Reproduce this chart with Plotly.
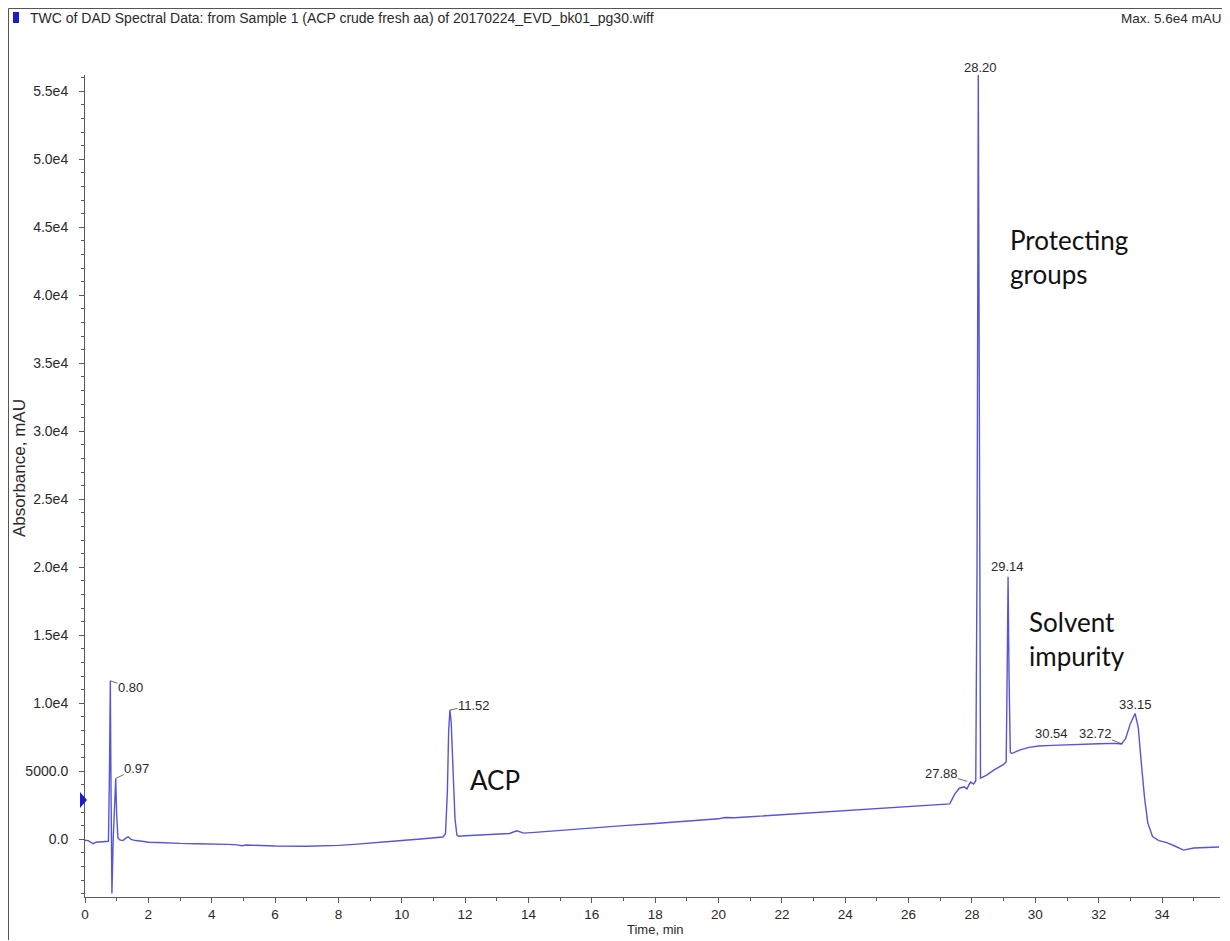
import plotly.graph_objects as go

# ---- data ----
time_min = [0.00, 0.10, 0.20, 0.26, 0.35, 0.50, 0.65, 0.74, 0.77, 0.80, 0.82, 0.85, 0.89, 0.93, 0.97,
            1.00, 1.04, 1.10, 1.20, 1.30, 1.37, 1.45, 1.60, 1.80, 2.00, 2.30, 2.70, 3.00, 3.50, 4.00,
            4.50, 4.80, 4.95, 5.10, 5.50, 6.00, 7.00, 7.50, 8.00, 8.50, 9.00, 9.50, 10.00, 10.50, 11.00,
            11.30, 11.38, 11.44, 11.48, 11.52, 11.56, 11.62, 11.68, 11.74, 11.80, 12.00, 12.50, 13.00,
            13.40, 13.63, 13.85, 14.20, 15.00, 16.00, 17.00, 18.00, 19.00, 20.00, 20.20, 20.50, 21.00,
            22.00, 23.00, 24.00, 25.00, 26.00, 26.50, 27.00, 27.30, 27.45, 27.60, 27.75, 27.84, 27.95,
            28.05, 28.12, 28.16, 28.20, 28.23, 28.27, 28.45, 28.70, 29.00, 29.08, 29.11, 29.14, 29.17,
            29.21, 29.26, 29.50, 29.80, 30.10, 30.54, 31.00, 31.50, 32.00, 32.50, 32.72, 32.85, 33.00,
            33.15, 33.25, 33.35, 33.45, 33.55, 33.70, 33.90, 34.15, 34.40, 34.68, 35.00, 35.30, 35.60,
            35.80]
absorbance = [-80, -100, -250, -330, -220, -200, -200, -150, 4500, 11650, 4000, -4000, 0, 2500, 4470,
              1800, 100, -50, -100, 100, 180, -20, -100, -150, -220, -240, -300, -310, -330, -340,
              -380, -420, -480, -430, -470, -500, -520, -500, -450, -380, -300, -200, -100, 0, 100,
              160, 400, 3500, 8000, 9500, 8600, 5000, 1500, 300, 220, 250, 320, 380,
              420, 620, 450, 500, 650, 850, 1000, 1150, 1300, 1500, 1600, 1580, 1650,
              1800, 1950, 2100, 2250, 2380, 2450, 2500, 2600, 3300, 3750, 3850, 3700, 4200,
              4050, 4300, 20000, 56200, 30000, 4500, 4700, 5100, 5500, 5700, 12000, 19300, 12000,
              6400, 6300, 6550, 6750, 6850, 6900, 6950, 7000, 7020, 7050, 7000, 7400, 8500,
              9250, 8200, 5500, 3000, 1200, 200, -100, -250, -500, -800, -650, -600, -580,
              -570]

peak_labels = ["0.80", "0.97", "11.52", "27.88", "29.14", "30.54", "32.72", "33.15"]
peak_x = [0.80, 0.97, 11.52, 27.85, 29.13, 30.52, 32.74, 33.15]
peak_y = [11650, 4470, 9500, 4250, 20050, 7780, 7000, 9940]
top_peak_label = "28.20"
top_peak_x = 28.26

y_tickvals = [0, 5000, 10000, 15000, 20000, 25000, 30000, 35000, 40000, 45000, 50000, 55000]
y_ticktext = ["0.0", "5000.0", "1.0e4", "1.5e4", "2.0e4", "2.5e4", "3.0e4", "3.5e4",
              "4.0e4", "4.5e4", "5.0e4", "5.5e4"]

title_text = "TWC of DAD Spectral Data: from Sample 1 (ACP crude fresh aa) of 20170224_EVD_bk01_pg30.wiff"
max_text = "Max. 5.6e4 mAU"

# page body adds an 8px margin; lay out in screen pixels and shift
OFF = 8
W, H = 1222, 932
PL, PR, PT, PB = 85, 1220, 75, 897          # plot area on screen
L, R, T, B = PL - OFF, W - (PR - OFF), PT - OFF, H - (PB - OFF)
pw, ph = W - L - R, H - T - B


def px(x):
    return (x - OFF - L) / pw


def py(y):
    return (H - B - (y - OFF)) / ph


LINE = "rgb(86,86,212)"
TXT = "#2a2a2a"
AX = "#5a5a5a"

fig = go.Figure()
fig.add_trace(go.Scatter(x=time_min, y=absorbance, mode="lines",
                         line=dict(color=LINE, width=1.4), hoverinfo="x+y",
                         showlegend=False))

annos = []
offsets = {"0.80": (20, 7), "0.97": (21, -10), "11.52": (24, -5),
           "27.88": (-26, -8), "32.72": (-27, -11)}
lab_font = dict(family="Liberation Sans, Arial", size=13, color=TXT)
for lab, xv, yv in zip(peak_labels, peak_x, peak_y):
    if lab in offsets:
        ax, ay = offsets[lab]
        annos.append(dict(x=xv, y=yv, xref="x", yref="y", text=lab, showarrow=True,
                          arrowhead=0, arrowwidth=0.8, arrowcolor="#444", ax=ax, ay=ay,
                          font=lab_font, standoff=0, borderpad=0))
    else:
        annos.append(dict(x=xv, y=yv, xref="x", yref="y", text=lab, showarrow=False,
                          xanchor="center", yanchor="middle", font=lab_font))
annos.append(dict(x=top_peak_x, y=py(67), xref="x", yref="paper", text=top_peak_label,
                  showarrow=False, xanchor="center", yanchor="middle", font=lab_font))

big = dict(family="Lato, Open Sans", size=26, color="#111")
annos.append(dict(x=29.14, y=42780, xref="x", yref="y", text="Protecting<br>groups",
                  showarrow=False, xanchor="left", yanchor="middle", align="left", font=big))
annos.append(dict(x=29.74, y=14730, xref="x", yref="y", text="Solvent<br>impurity",
                  showarrow=False, xanchor="left", yanchor="middle", align="left", font=big))
annos.append(dict(x=12.09, y=4340, xref="x", yref="y", text="ACP",
                  showarrow=False, xanchor="left", yanchor="middle", align="left", font=big))

annos.append(dict(x=px(28), y=py(18), xref="paper", yref="paper", text=title_text,
                  showarrow=False, xanchor="left", yanchor="middle",
                  font=dict(family="Liberation Sans, Arial", size=14, color=TXT)))
annos.append(dict(x=px(1224), y=py(18), xref="paper", yref="paper", text=max_text,
                  showarrow=False, xanchor="right", yanchor="middle",
                  font=dict(family="Liberation Sans, Arial", size=13.5, color=TXT)))
annos.append(dict(x=px(19), y=py(468), xref="paper", yref="paper", text="Absorbance, mAU",
                  showarrow=False, textangle=-90, xanchor="center", yanchor="middle",
                  font=dict(family="Liberation Sans, Arial", size=17, color=TXT)))
annos.append(dict(x=px(655), y=py(929), xref="paper", yref="paper", text="Time, min",
                  showarrow=False, xanchor="center", yanchor="middle",
                  font=dict(family="Liberation Sans, Arial", size=13, color=TXT)))

shapes = [
    dict(type="rect", xref="paper", yref="paper", x0=px(8.5), x1=px(1227), y0=py(980), y1=py(8.5),
         line=dict(color="#555", width=1), fillcolor="rgba(0,0,0,0)", layer="below"),
    dict(type="rect", xref="paper", yref="paper", x0=px(13), x1=px(19), y0=py(23), y1=py(12),
         line=dict(width=0), fillcolor="#1c1cc8"),
    dict(type="path", xref="paper", yref="paper",
         path=f"M {px(80)},{py(792)} L {px(87)},{py(800)} L {px(80)},{py(808)} Z",
         line=dict(width=0), fillcolor="#1c1cc8"),
]

fig.update_layout(
    width=W, height=H,
    margin=dict(l=L, r=R, t=T, b=B),
    paper_bgcolor="white", plot_bgcolor="white",
    annotations=annos, shapes=shapes,
    xaxis=dict(range=[0, 35.83], tickmode="linear", tick0=0, dtick=2,
               ticks="outside", ticklen=5, tickcolor=AX, showline=True, linecolor=AX,
               linewidth=1, showgrid=False, zeroline=False,
               tickfont=dict(family="Liberation Sans, Arial", size=13.5, color=TXT),
               minor=dict(tick0=0, dtick=1, ticks="outside", ticklen=3, tickcolor=AX,
                          showgrid=False)),
    yaxis=dict(range=[-4250, 56200], tickmode="array", tickvals=y_tickvals, ticktext=y_ticktext,
               ticks="outside", ticklen=5, tickcolor=AX, showline=True, linecolor=AX,
               linewidth=1, showgrid=False, zeroline=False, ticklabelstandoff=8,
               tickfont=dict(family="Liberation Sans, Arial", size=14, color=TXT),
               minor=dict(tick0=0, dtick=1000, ticks="outside", ticklen=3, tickcolor=AX,
                          showgrid=False)),
)

fig.write_html("out.html")
